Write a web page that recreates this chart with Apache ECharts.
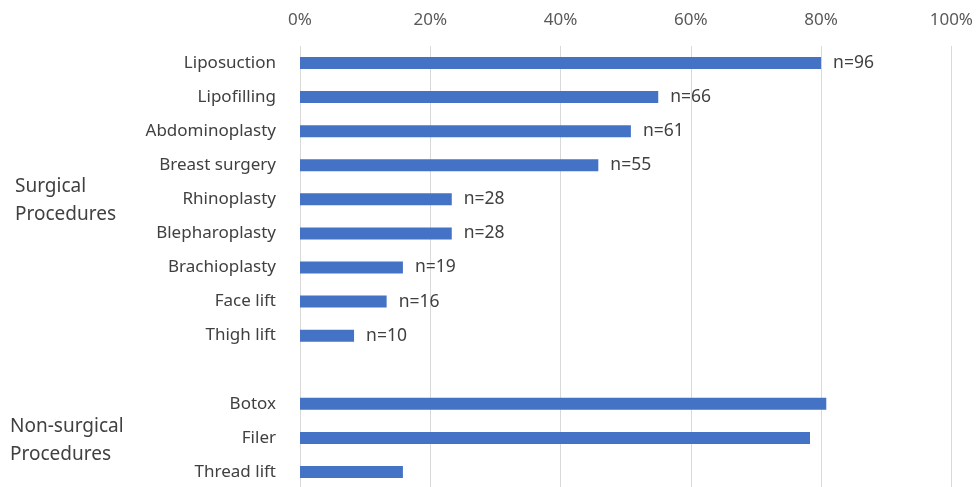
<!DOCTYPE html>
<html>
<head>
<meta charset="utf-8">
<script src="https://cdn.jsdelivr.net/npm/echarts@6/dist/echarts.min.js"></script>
<style>
  html, body { margin: 0; padding: 0; background: #fff; overflow: hidden; }
  /* taller than the window: the original plot runs past the bottom edge */
  #main { width: 976px; height: 495px; }
</style>
</head>
<body>
<div id="main"></div>
<script>
// procedures, top to bottom (blank row separates the two groups)
const procedures = ['Liposuction', 'Lipofilling', 'Abdominoplasty', 'Breast surgery', 'Rhinoplasty',
  'Blepharoplasty', 'Brachioplasty', 'Face lift', 'Thigh lift', ' ', 'Botox', 'Filer', 'Thread lift']
// share of respondents, %
const shares = [80.0, 55.0, 50.8, 45.8, 23.3, 23.3, 15.8, 13.3, 8.3, '-', 80.8, 78.3, 15.8]
// counts shown next to surgical bars
const counts = ['n=96', 'n=66', 'n=61', 'n=55', 'n=28', 'n=28', 'n=19', 'n=16', 'n=10', '', '', '', '']
const xTicks = [0, 20, 40, 60, 80, 100]

const font = 'Noto Sans'
const textColor = '#404040'

const chart = echarts.init(document.getElementById('main'))
chart.setOption({
  animation: false,
  grid: {
    left: 300,
    width: 653,
    top: 46,
    height: 443
  },
  xAxis: {
    type: 'value',
    position: 'top',
    min: xTicks[0],
    max: xTicks[xTicks.length - 1],
    interval: 20,
    axisLine: {show: false},
    axisTick: {show: false},
    axisLabel: {
      formatter: '{value}%',
      color: '#595959',
      fontFamily: font,
      fontSize: 17,
      margin: 17
    },
    splitLine: {lineStyle: {color: '#d9d9d9', width: 1}}
  },
  yAxis: {
    type: 'category',
    inverse: true,
    data: procedures,
    axisLine: {show: false},
    axisTick: {show: false},
    axisLabel: {
      color: textColor,
      fontFamily: font,
      fontSize: 17,
      margin: 24
    }
  },
  series: [
    {
      type: 'bar',
      data: shares,
      barWidth: 12,
      itemStyle: {color: '#4472c4'},
      label: {
        show: true,
        position: 'right',
        distance: 12,
        color: textColor,
        fontFamily: font,
        fontSize: 17.5,
        formatter: p => counts[p.dataIndex]
      }
    }
  ],
  // group titles on the far left
  graphic: [
    {
      type: 'text',
      left: 15,
      top: 173,
      style: {
        text: 'Surgical\nProcedures',
        fill: textColor,
        font: '19px "Noto Sans"',
        lineHeight: 28
      }
    },
    {
      type: 'text',
      left: 10,
      top: 413,
      style: {
        text: 'Non-surgical\nProcedures',
        fill: textColor,
        font: '19px "Noto Sans"',
        lineHeight: 28
      }
    }
  ]
})
</script>
</body>
</html>
